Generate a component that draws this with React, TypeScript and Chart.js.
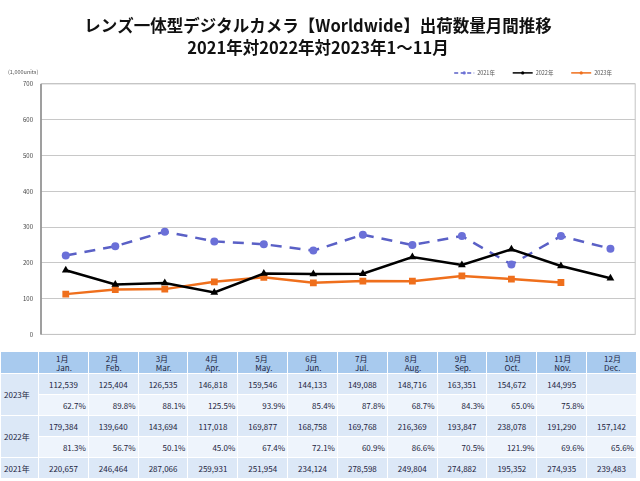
import React, { useEffect, useRef } from "react";
import { Chart, registerables } from "chart.js";

Chart.register(...registerables);

const TITLE_LINES = ["レンズ一体型デジタルカメラ【Worldwide】出荷数量月間推移", "2021年対2022年対2023年1～11月"];
const MONTHS_JA = ["1月", "2月", "3月", "4月", "5月", "6月", "7月", "8月", "9月", "10月", "11月", "12月"];
const MONTHS_EN = ["Jan.", "Feb.", "Mar.", "Apr.", "May.", "Jun.", "Jul.", "Aug.", "Sep.", "Oct.", "Nov.", "Dec."];
const SERIES_NAMES = ["2021年", "2022年", "2023年"];
const UNITS_2021 = [220657, 246464, 287066, 259931, 251954, 234124, 278598, 249804, 274882, 195352, 274935, 239483];
const UNITS_2022 = [179384, 139640, 143694, 117018, 169877, 168758, 169768, 216369, 193847, 238078, 191290, 157142];
const UNITS_2023 = [112539, 125404, 126535, 146818, 159546, 144133, 149088, 148716, 163351, 154672, 144995];
const YOY_2023 = [62.7, 89.8, 88.1, 125.5, 93.9, 85.4, 87.8, 68.7, 84.3, 65.0, 75.8];
const YOY_2022 = [81.3, 56.7, 50.1, 45.0, 67.4, 72.1, 60.9, 86.6, 70.5, 121.9, 69.6, 65.6];
const Y_MIN = 0;
const Y_MAX = 700;
const Y_STEP = 100;
const UNIT_LABEL = "(1,000units)";

const COLORS = ["#5a60c6", "#000000", "#ef6f1c"];
const FONT = '"Noto Sans CJK JP", "Noto Sans", sans-serif';

const toK = (arr: number[]) => arr.map((v) => v / 1000);
const fmt = (v?: number) => (v === undefined ? "" : v.toLocaleString("en-US"));
const pct = (v?: number) => (v === undefined ? "" : v.toFixed(1) + "%");

const framePlugin = {
  id: "frame",
  beforeDatasetsDraw(chart: any) {
    const { ctx, chartArea } = chart;
    ctx.save();
    ctx.strokeStyle = "#c4c4c4";
    ctx.lineWidth = 1;
    ctx.strokeRect(chartArea.left, chartArea.top, chartArea.right - chartArea.left, chartArea.bottom - chartArea.top);
    ctx.strokeStyle = "#8a8a8a";
    ctx.lineWidth = 1.5;
    ctx.beginPath();
    ctx.moveTo(chartArea.left, chartArea.top);
    ctx.lineTo(chartArea.left, chartArea.bottom);
    ctx.stroke();
    ctx.restore();
  },
};

const legendPlugin = {
  id: "excelLegend",
  afterDraw(chart: any) {
    const { ctx, chartArea } = chart;
    const ds = chart.data.datasets;
    const y = chartArea.top - 11;
    ctx.save();
    ds.forEach((d: any, i: number) => {
      const x0 = chartArea.right - 181 + i * 58.5;
      ctx.strokeStyle = d.borderColor;
      ctx.lineWidth = 1.5;
      ctx.setLineDash(d.borderDash && d.borderDash.length ? [4, 2.5] : []);
      ctx.beginPath();
      ctx.moveTo(x0, y);
      ctx.lineTo(x0 + 20, y);
      ctx.stroke();
      ctx.setLineDash([]);
      ctx.fillStyle = d.pointBackgroundColor;
      ctx.beginPath();
      ctx.arc(x0 + 10, y, 1.6, 0, Math.PI * 2);
      ctx.fill();
      ctx.fillStyle = "#555";
      ctx.font = `5.5px ${FONT}`;
      ctx.textBaseline = "middle";
      ctx.fillText(d.label, x0 + 23, y);
    });
    ctx.restore();
  },
};

function LineChart() {
  const ref = useRef<HTMLCanvasElement>(null);
  useEffect(() => {
    if (!ref.current) return;
    const chart = new Chart(ref.current, {
      type: "line",
      data: {
        labels: MONTHS_JA,
        datasets: [
          {
            label: SERIES_NAMES[0],
            data: toK(UNITS_2021),
            borderColor: COLORS[0],
            backgroundColor: COLORS[0],
            pointBackgroundColor: "#6b70d8",
            pointBorderColor: "#6b70d8",
            borderWidth: 2.5,
            borderDash: [11, 8],
            pointStyle: "circle",
            pointRadius: 4,
            pointBorderWidth: 0,
            order: 3,
          },
          {
            label: SERIES_NAMES[1],
            data: toK(UNITS_2022),
            borderColor: COLORS[1],
            backgroundColor: COLORS[1],
            pointBackgroundColor: COLORS[1],
            pointBorderColor: COLORS[1],
            borderWidth: 2.5,
            pointStyle: "triangle",
            pointRadius: 4.5,
            pointBorderWidth: 0,
            order: 1,
          },
          {
            label: SERIES_NAMES[2],
            data: toK(UNITS_2023),
            borderColor: COLORS[2],
            backgroundColor: COLORS[2],
            pointBackgroundColor: COLORS[2],
            pointBorderColor: COLORS[2],
            borderWidth: 2.5,
            pointStyle: "rect",
            pointRadius: 4.8,
            pointBorderWidth: 0,
            order: 2,
          },
        ],
      },
      options: {
        responsive: false,
        animation: false,
        layout: { padding: { left: 0, right: 4, bottom: 3, top: 0 } },
        plugins: {
          legend: { display: false },
          tooltip: { enabled: false },
          title: {
            display: true,
            text: TITLE_LINES,
            color: "#111",
            font: { family: FONT, size: 16.5, weight: "bold", lineHeight: 1.33 },
            padding: { top: 15, bottom: 25 },
          },
        },
        scales: {
          x: {
            display: false,
            offset: true,
          },
          y: {
            min: Y_MIN,
            max: Y_MAX,
            ticks: { stepSize: Y_STEP, color: "#444", font: { family: FONT, size: 6 }, padding: 8 },
            grid: { color: "#c8c8c8", lineWidth: 1, drawTicks: false },
            border: { display: false },
            afterFit: (s: any) => {
              s.width = 41;
            },
          },
        },
      },
      plugins: [framePlugin, legendPlugin],
    });
    return () => chart.destroy();
  }, []);
  return <canvas ref={ref} width={640} height={346} style={{ display: "block" }} />;
}

const HEADER_BG = "#a8caee";
const LIGHT_BG = "#dce8f7";
const PALE_BG = "#eef4fc";
const TEXT = "#1c2440";

function DataTable() {
  const cell = (bg: string, extra: any = {}) => ({
    background: bg,
    border: "1px solid #fff",
    padding: 0,
    color: TEXT,
    fontSize: 8,
    lineHeight: "9px",
    whiteSpace: "nowrap" as const,
    ...extra,
  });
  const valRow = (vals: number[], bg: string, h: number) =>
    MONTHS_JA.map((_, i) => (
      <td key={i} style={cell(bg, { textAlign: "center", height: h })}>
        {fmt(vals[i])}
      </td>
    ));
  const pctRow = (vals: number[], bg: string, h: number) =>
    MONTHS_JA.map((_, i) => (
      <td key={i} style={cell(bg, { textAlign: "right", paddingRight: 2, height: h })}>
        {pct(vals[i])}
      </td>
    ));
  return (
    <table
      style={{
        position: "absolute",
        top: 351,
        left: 0,
        width: 637,
        borderCollapse: "collapse",
        tableLayout: "fixed",
        fontFamily: FONT,
      }}
    >
      <colgroup>
        <col style={{ width: 38 }} />
        {MONTHS_JA.map((_, i) => (
          <col key={i} />
        ))}
      </colgroup>
      <tbody>
        <tr>
          <td style={cell(HEADER_BG, { height: 21 })}></td>
          {MONTHS_JA.map((m, i) => (
            <td key={i} style={cell(HEADER_BG, { textAlign: "left", paddingLeft: 17, height: 21 })}>
              <div>{m}</div>
              <div>{MONTHS_EN[i]}</div>
            </td>
          ))}
        </tr>
        <tr>
          <td rowSpan={2} style={cell(LIGHT_BG, { paddingLeft: 3 })}>
            {SERIES_NAMES[2]}
          </td>
          {valRow(UNITS_2023, LIGHT_BG, 20)}
        </tr>
        <tr>{pctRow(YOY_2023, PALE_BG, 20)}</tr>
        <tr>
          <td rowSpan={2} style={cell(LIGHT_BG, { paddingLeft: 3 })}>
            {SERIES_NAMES[1]}
          </td>
          {valRow(UNITS_2022, LIGHT_BG, 20)}
        </tr>
        <tr>{pctRow(YOY_2022, PALE_BG, 20)}</tr>
        <tr>
          <td style={cell(LIGHT_BG, { paddingLeft: 3 })}>{SERIES_NAMES[0]}</td>
          {valRow(UNITS_2021, LIGHT_BG, 20)}
        </tr>
      </tbody>
    </table>
  );
}

export default function App() {
  return (
    <div
      style={{
        position: "absolute",
        top: 0,
        left: 0,
        width: 640,
        height: 481,
        overflow: "hidden",
        background: "#fff",
        fontFamily: FONT,
      }}
    >
      <LineChart />
      <div style={{ position: "absolute", left: 8, top: 68, fontSize: 5.5, color: "#555", fontFamily: FONT }}>
        {UNIT_LABEL}
      </div>
      <DataTable />
    </div>
  );
}
